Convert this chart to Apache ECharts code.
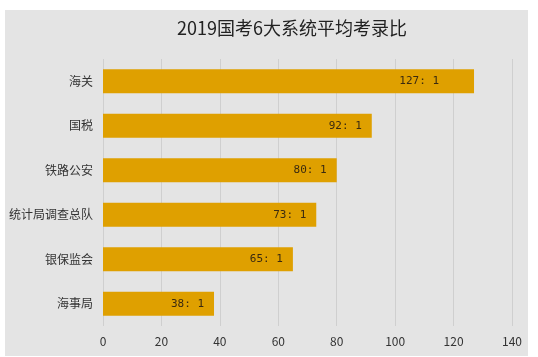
<!DOCTYPE html>
<html>
<head>
<meta charset="utf-8">
<script src="https://cdn.jsdelivr.net/npm/echarts@6/dist/echarts.min.js"></script>
<style>
html,body{margin:0;padding:0;background:#fff;}
#c{width:538px;height:357px;}
</style>
</head>
<body>
<div id="c"></div>
<script>
const titleText = '2019国考6大系统平均考录比';
const categories = ['海关', '国税', '铁路公安', '统计局调查总队', '银保监会', '海事局'];
const ratios = [127, 92, 80, 73, 65, 38];
const axisMin = 0, axisMax = 140, axisStep = 20;

const chart = echarts.init(document.getElementById('c'), null, {renderer: 'canvas'});
chart.setOption({
  backgroundColor: '#ffffff',
  animation: false,
  graphic: [{
    type: 'rect', z: -10, silent: true,
    shape: {x: 5, y: 10, width: 523, height: 346},
    style: {fill: '#e4e4e4'}
  }],
  title: {
    text: titleText,
    left: 287, top: 14, textAlign: 'center',
    textStyle: {fontSize: 18, fontWeight: 'normal', color: '#222',
      fontFamily: 'Noto Sans CJK SC, sans-serif'}
  },
  grid: {left: 103, right: 26, top: 59, bottom: 31, containLabel: false},
  xAxis: {
    type: 'value', min: axisMin, max: axisMax, interval: axisStep,
    axisLine: {show: false}, axisTick: {show: false},
    axisLabel: {color: '#333', fontSize: 12, margin: 9, fontFamily: 'Noto Sans CJK SC, sans-serif'},
    splitLine: {show: true, lineStyle: {color: '#cfcfcf', width: 1}}
  },
  yAxis: {
    type: 'category', data: categories, inverse: true,
    axisLine: {show: false}, axisTick: {show: false},
    axisLabel: {color: '#333', fontSize: 12, margin: 10, fontFamily: 'Noto Sans CJK SC, sans-serif'}
  },
  series: [{
    type: 'bar',
    data: ratios.map((v, i) => i === 0 ? {value: v, label: {offset: [-25, 0]}} : v),
    barWidth: 24,
    itemStyle: {color: '#dfa000'},
    label: {
      show: true, position: 'insideRight', distance: 10,
      formatter: p => p.value + ': 1',
      color: '#3a2a10', fontSize: 11,
      fontFamily: 'DejaVu Sans Mono, monospace'
    }
  }]
});
</script>
</body>
</html>
